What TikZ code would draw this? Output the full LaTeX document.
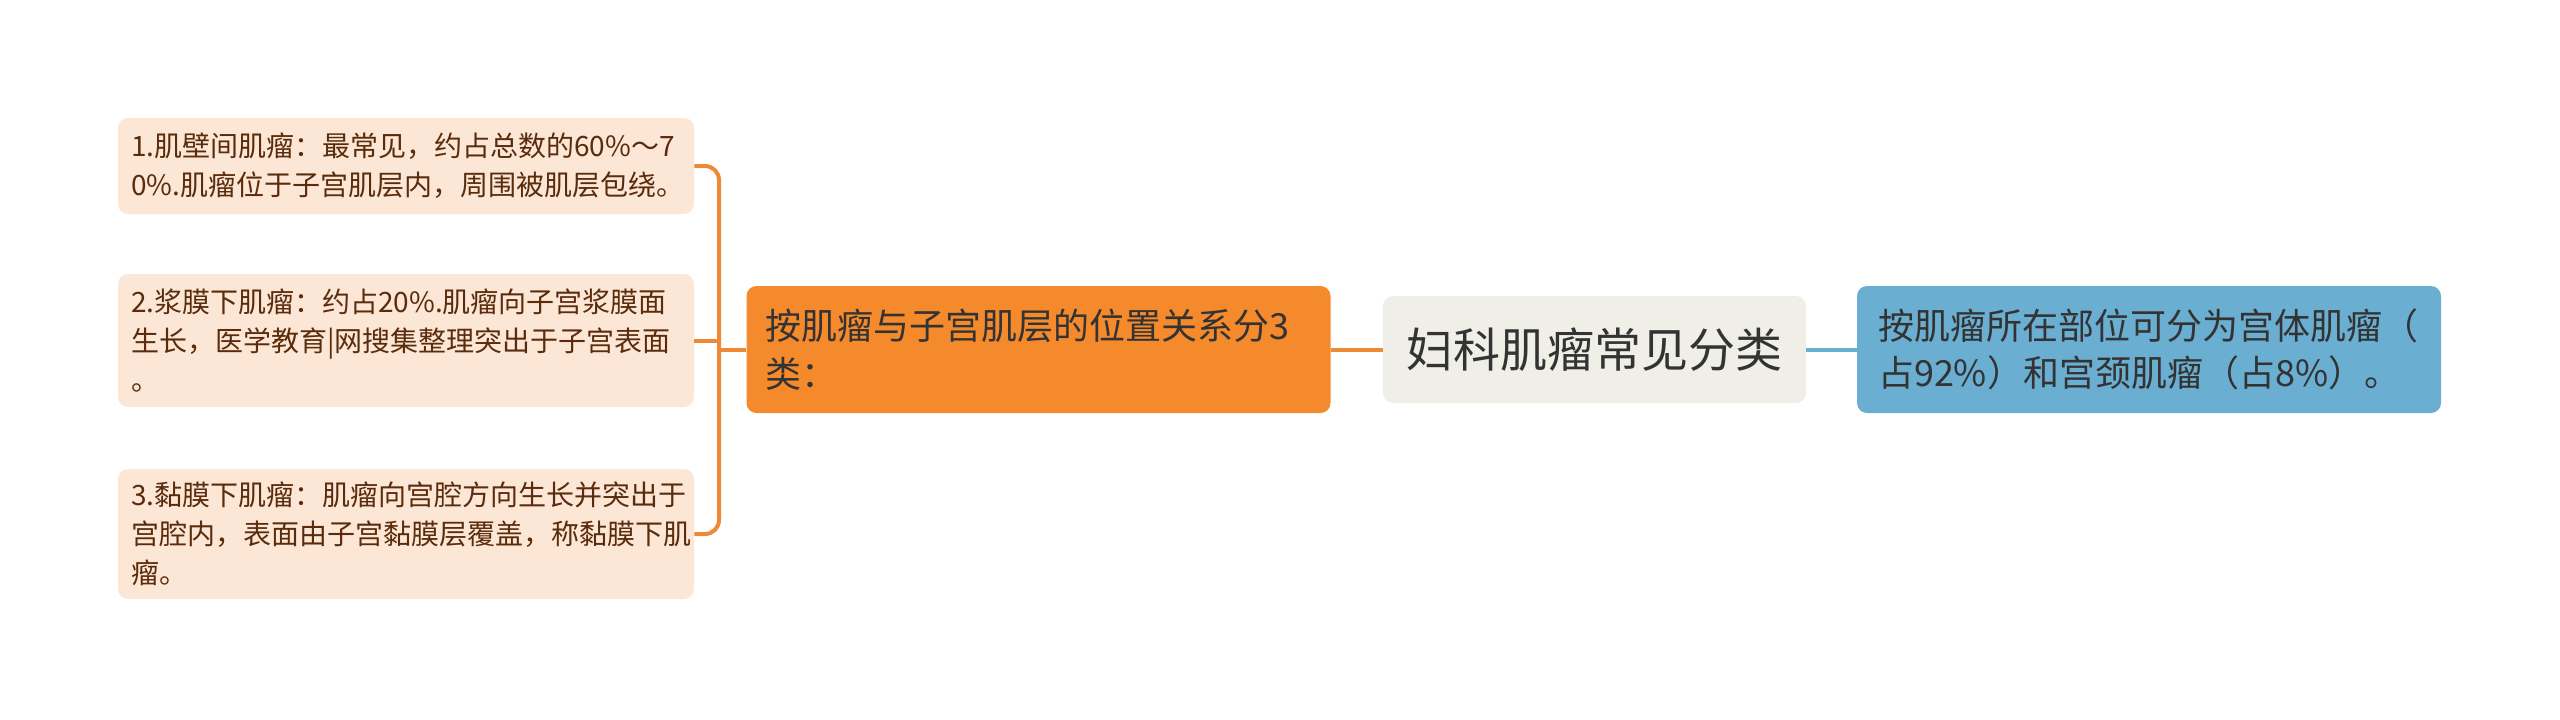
\documentclass[tikz,border=0pt]{standalone}
\usepackage{fontspec}
\setmainfont{Noto Sans CJK SC}
\usepackage{tikz}

\definecolor{peach}{HTML}{FCE6D6}
\definecolor{brownink}{HTML}{5A2C0C}
\definecolor{orangefill}{HTML}{F58A2C}
\definecolor{orangeline}{HTML}{EE8A36}
\definecolor{rootfill}{HTML}{EFEFE7}
\definecolor{bluefill}{HTML}{6AAED1}
\definecolor{ink}{HTML}{333333}

\begin{document}
\begin{tikzpicture}[x=0.5pt,y=-0.5pt,
  leaf/.style={fill=peach,text=brownink,rounded corners=5pt,inner xsep=6.5pt,text width=275pt,align=left,font=\fontsize{14}{19.6}\selectfont},
  branch/.style={rounded corners=5pt,inner xsep=9.5pt,text width=273pt,minimum height=63.5pt,align=left,text=ink,font=\fontsize{18}{23.7}\selectfont},
  oline/.style={draw=orangeline,line width=2pt},
  bline/.style={draw=bluefill,line width=2pt}]

\useasboundingbox (0,0) rectangle (2560,719);

\node[leaf,minimum height=48pt] (wall) at (406,166) {1.肌壁间肌瘤：最常见，约占总数的60\%～7\\0\%.肌瘤位于子宫肌层内，周围被肌层包绕。};
\node[leaf,minimum height=66.5pt] (serosa) at (406,340.5) {2.浆膜下肌瘤：约占20\%.肌瘤向子宫浆膜面\\生长，医学教育|网搜集整理突出于子宫表面\\。};
\node[leaf,minimum height=65pt] (mucosa) at (406,534) {3.黏膜下肌瘤：肌瘤向宫腔方向生长并突出于\\宫腔内，表面由子宫黏膜层覆盖，称黏膜下肌\\瘤。};

\node[branch,fill=orangefill] (layer) at (1038.5,349.5) {按肌瘤与子宫肌层的位置关系分3\\类：};
\node[fill=rootfill,rounded corners=5pt,minimum width=211.5pt,minimum height=53.5pt,text=ink,font=\fontsize{23.5}{28}\selectfont] (root) at (1594.5,349.5) {妇科肌瘤常见分类};
\node[branch,fill=bluefill,inner xsep=10.5pt,text width=271pt] (site) at (2149,349.5) {按肌瘤所在部位可分为宫体肌瘤（\\占92\%）和宫颈肌瘤（占8\%）。};

\coordinate (fork) at (719,349.5);

\draw[oline] (root.west) -- (layer.east);
\draw[bline] (root.east) -- (site.west);
\draw[oline] (layer.west) -- (fork);
\draw[oline,rounded corners=7pt] (wall.east) -| (fork) |- (mucosa.east);
\draw[oline] (serosa.east) -- (serosa.east -| fork);

\end{tikzpicture}
\end{document}
